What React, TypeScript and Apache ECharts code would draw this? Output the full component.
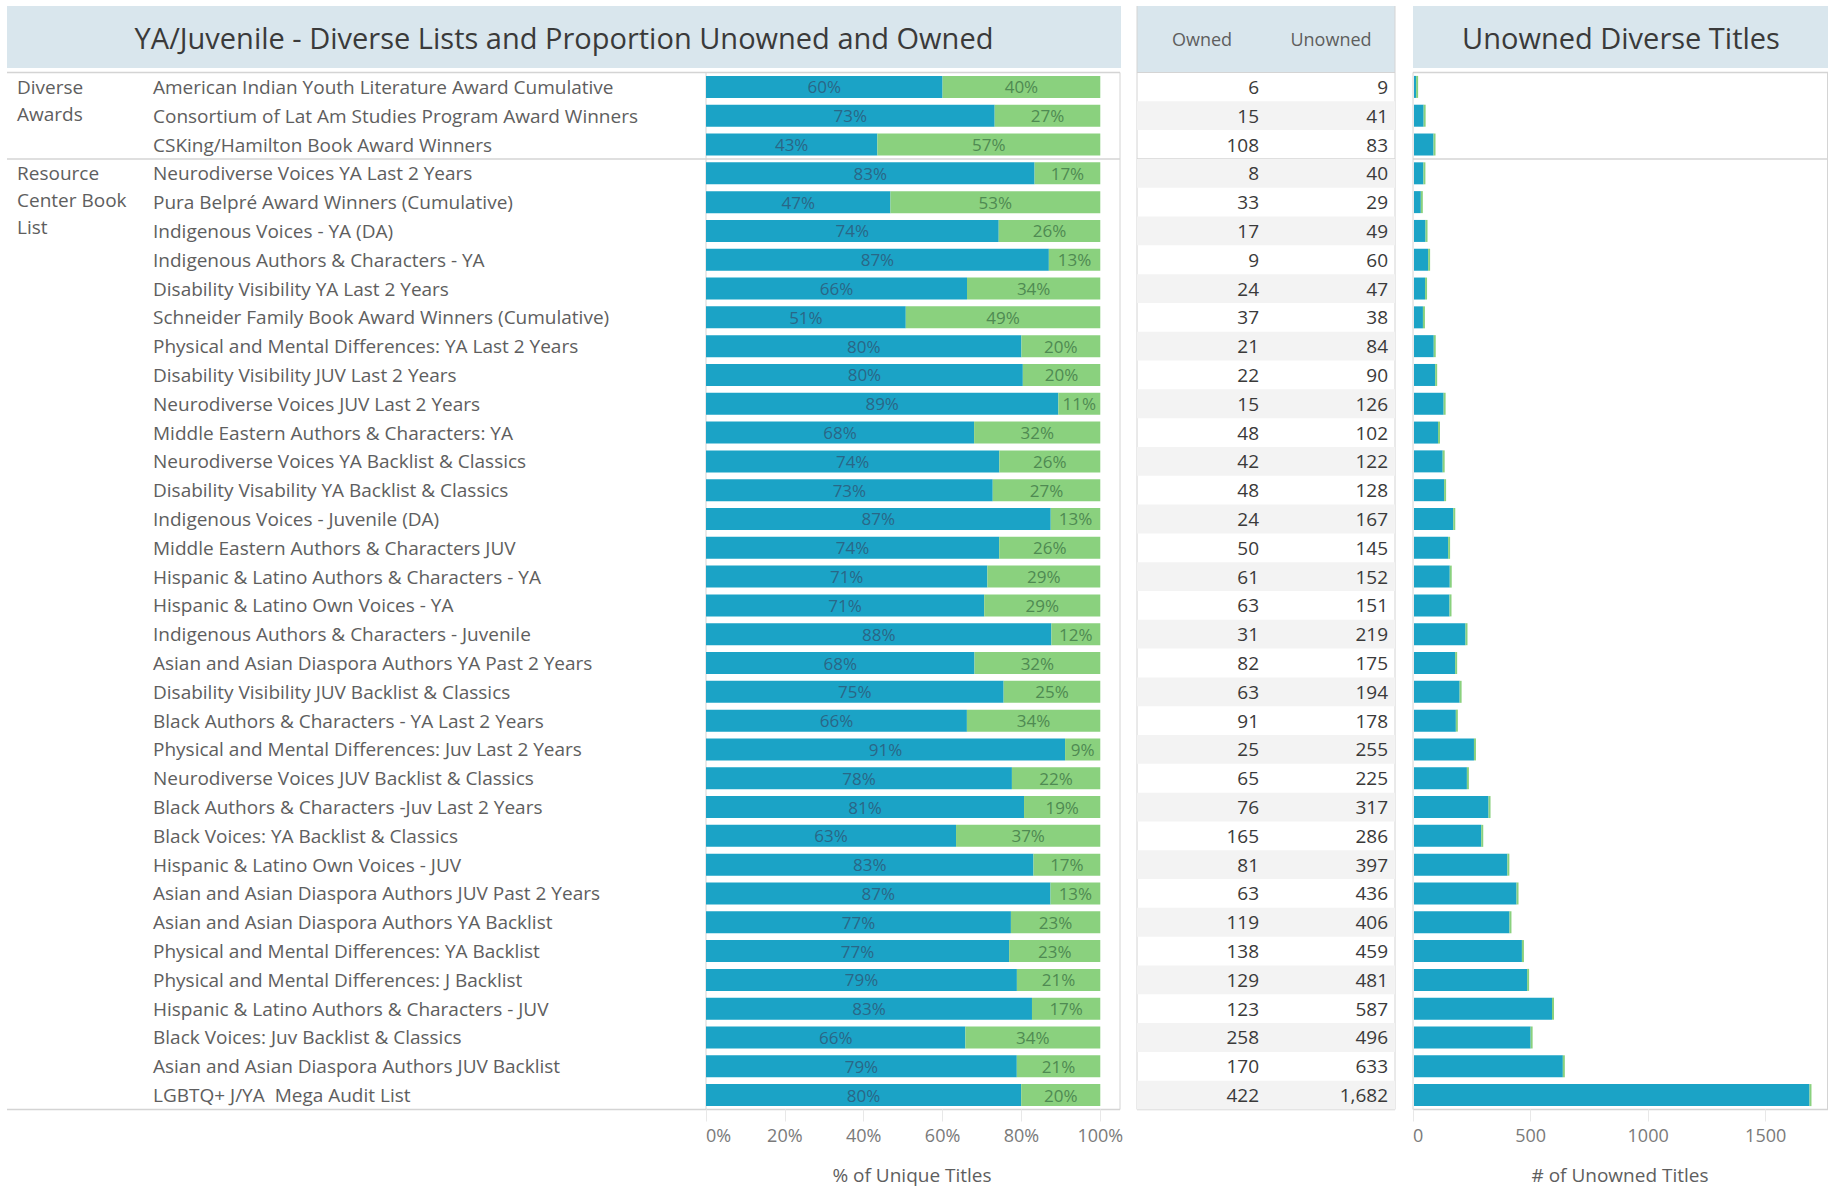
import React, { useEffect, useRef } from "react";
import * as echarts from "echarts";

const categories = [
  "American Indian Youth Literature Award Cumulative",
  "Consortium of Lat Am Studies Program Award Winners",
  "CSKing/Hamilton Book Award Winners",
  "Neurodiverse Voices YA Last 2 Years",
  "Pura Belpré Award Winners (Cumulative)",
  "Indigenous Voices - YA (DA)",
  "Indigenous Authors & Characters - YA",
  "Disability Visibility YA Last 2 Years",
  "Schneider Family Book Award Winners (Cumulative)",
  "Physical and Mental Differences: YA Last 2 Years",
  "Disability Visibility JUV Last 2 Years",
  "Neurodiverse Voices JUV Last 2 Years",
  "Middle Eastern Authors & Characters: YA",
  "Neurodiverse Voices YA Backlist & Classics",
  "Disability Visability YA Backlist & Classics",
  "Indigenous Voices - Juvenile (DA)",
  "Middle Eastern Authors & Characters JUV",
  "Hispanic & Latino Authors & Characters - YA",
  "Hispanic & Latino Own Voices - YA",
  "Indigenous Authors & Characters - Juvenile",
  "Asian and Asian Diaspora Authors YA Past 2 Years",
  "Disability Visibility JUV Backlist & Classics",
  "Black Authors & Characters - YA Last 2 Years",
  "Physical and Mental Differences: Juv Last 2 Years",
  "Neurodiverse Voices JUV Backlist & Classics",
  "Black Authors & Characters -Juv Last 2 Years",
  "Black Voices: YA Backlist & Classics",
  "Hispanic & Latino Own Voices - JUV",
  "Asian and Asian Diaspora Authors JUV Past 2 Years",
  "Asian and Asian Diaspora Authors YA Backlist",
  "Physical and Mental Differences: YA Backlist",
  "Physical and Mental Differences: J Backlist",
  "Hispanic & Latino Authors & Characters - JUV",
  "Black Voices: Juv Backlist & Classics",
  "Asian and Asian Diaspora Authors JUV Backlist",
  "LGBTQ+ J/YA  Mega Audit List",
];

const owned = [
  6, 15, 108, 8, 33, 17, 9, 24, 37, 21, 22, 15, 48, 42, 48, 24, 50, 61, 63, 31,
  82, 63, 91, 25, 65, 76, 165, 81, 63, 119, 138, 129, 123, 258, 170, 422,
];

const unowned = [
  9, 41, 83, 40, 29, 49, 60, 47, 38, 84, 90, 126, 102, 122, 128, 167, 145, 152,
  151, 219, 175, 194, 178, 255, 225, 317, 286, 397, 436, 406, 459, 481, 587,
  496, 633, 1682,
];

const groups = [
  { name: "Diverse\nAwards", start: 0, count: 3 },
  { name: "Resource\nCenter Book\nList", start: 3, count: 33 },
];

const pctTicks = [0, 20, 40, 60, 80, 100];
const countTicks = [0, 500, 1000, 1500];

const FONT = "'Open Sans', 'Noto Sans', sans-serif";
const BLUE = "#1ba3c6";
const GREEN = "#8ad17e";
const BAND = "#d9e6ed";
const LINE = "#d4d4d4";
const TXT = "#5e5e5e";

const W = 1828;
const H = 1187;
const TOP = 72.5;
const BOTTOM = 1109.5;
const ROWH = (BOTTOM - TOP) / categories.length;

const unownedPct = unowned.map((u, i) => (u / (u + owned[i])) * 100);
const ownedPct = owned.map((o, i) => (o / (o + unowned[i])) * 100);

export default function App() {
  const ref = useRef<HTMLDivElement>(null);
  useEffect(() => {
    if (!ref.current) return;
    const chart = echarts.init(ref.current, null, { renderer: "svg" });

    const graphics: any[] = [];
    graphics.push(
      { type: "rect", shape: { x: 7, y: 6, width: 1114, height: 62 }, style: { fill: BAND } },
      { type: "rect", shape: { x: 1137, y: 6, width: 258, height: 66 }, style: { fill: BAND } },
      { type: "rect", shape: { x: 1413, y: 6, width: 415, height: 62 }, style: { fill: BAND } },
      {
        type: "text", x: 564, y: 37,
        style: { text: "YA/Juvenile - Diverse Lists and Proportion Unowned and Owned", font: `29px ${FONT}`, fill: "#3a3a3a", align: "center", verticalAlign: "middle" },
      },
      {
        type: "text", x: 1621, y: 37,
        style: { text: "Unowned Diverse Titles", font: `29px ${FONT}`, fill: "#3a3a3a", align: "center", verticalAlign: "middle" },
      },
      {
        type: "text", x: 1202, y: 39,
        style: { text: "Owned", font: `18px ${FONT}`, fill: TXT, align: "center", verticalAlign: "middle" },
      },
      {
        type: "text", x: 1331, y: 39,
        style: { text: "Unowned", font: `18px ${FONT}`, fill: TXT, align: "center", verticalAlign: "middle" },
      }
    );
    groups.forEach((g) => {
      const lines = g.name.split("\n");
      lines.forEach((ln, k) => {
        graphics.push({
          type: "text", x: 17, y: TOP + ROWH * (g.start + 0.5) + k * 27,
          style: { text: ln, font: `19px ${FONT}`, fill: TXT, align: "left", verticalAlign: "middle" },
        });
      });
    });
    const sepYs = [TOP, TOP + ROWH * 3, BOTTOM];
    sepYs.forEach((y) => {
      graphics.push({ type: "line", shape: { x1: 7, y1: y, x2: 1120, y2: y }, style: { stroke: LINE, lineWidth: 1.5 } });
      graphics.push({ type: "line", shape: { x1: 1413, y1: y, x2: 1828, y2: y }, style: { stroke: LINE, lineWidth: 1.5 } });
    });
    graphics.push(
      { type: "line", shape: { x1: 1137, y1: TOP + ROWH * 3, x2: 1395, y2: TOP + ROWH * 3 }, style: { stroke: LINE, lineWidth: 1.5 } },
      { type: "line", shape: { x1: 1137, y1: BOTTOM, x2: 1395, y2: BOTTOM }, style: { stroke: LINE, lineWidth: 1.5 } },
      { type: "line", shape: { x1: 1137, y1: TOP, x2: 1395, y2: TOP }, style: { stroke: LINE, lineWidth: 1 } },
      { type: "line", shape: { x1: 1137, y1: 6, x2: 1137, y2: BOTTOM }, style: { stroke: LINE, lineWidth: 1 } },
      { type: "line", shape: { x1: 1395, y1: 6, x2: 1395, y2: BOTTOM }, style: { stroke: LINE, lineWidth: 1 } },
      { type: "line", shape: { x1: 706, y1: TOP, x2: 706, y2: BOTTOM }, style: { stroke: LINE, lineWidth: 1 } },
      { type: "line", shape: { x1: 1120, y1: TOP, x2: 1120, y2: BOTTOM }, style: { stroke: LINE, lineWidth: 1 } },
      { type: "line", shape: { x1: 1413, y1: TOP, x2: 1413, y2: BOTTOM }, style: { stroke: LINE, lineWidth: 1 } },
      { type: "line", shape: { x1: 1827.5, y1: TOP, x2: 1827.5, y2: BOTTOM }, style: { stroke: LINE, lineWidth: 1 } },
      {
        type: "text", x: 912, y: 1175,
        style: { text: "% of Unique Titles", font: `19px ${FONT}`, fill: TXT, align: "center", verticalAlign: "middle" },
      },
      {
        type: "text", x: 1620, y: 1175,
        style: { text: "# of Unowned Titles", font: `19px ${FONT}`, fill: TXT, align: "center", verticalAlign: "middle" },
      }
    );

    const gridH = BOTTOM - TOP;
    const option: any = {
      animation: false,
      backgroundColor: "#fff",
      textStyle: { fontFamily: FONT },
      grid: [
        { left: 706, top: TOP, width: 414, height: gridH, containLabel: false },
        { left: 1137, top: TOP, width: 258, height: gridH, containLabel: false },
        { left: 1413, top: TOP, width: 415, height: gridH, containLabel: false },
      ],
      xAxis: [
        {
          gridIndex: 0, type: "value", min: 0, max: 105, interval: 20,
          axisLine: { show: false },
          axisTick: { show: true, length: 12, lineStyle: { color: "#e8e8e8" } },
          splitLine: { show: false },
          axisLabel: {
            showMaxLabel: false, alignMinLabel: "left", margin: 16,
            fontSize: 18, color: "#7a7a7a", fontFamily: FONT,
            formatter: (v: number) => (pctTicks.includes(v) ? `${v}%` : ""),
          },
        },
        { gridIndex: 1, type: "value", min: 0, max: 1, show: false },
        {
          gridIndex: 2, type: "value", min: 0, max: 1765, interval: 500,
          axisLine: { show: false },
          axisTick: { show: true, length: 12, lineStyle: { color: "#e8e8e8" } },
          splitLine: { show: false },
          axisLabel: {
            showMaxLabel: false, alignMinLabel: "left", margin: 16,
            fontSize: 18, color: "#7a7a7a", fontFamily: FONT,
            formatter: (v: number) => (countTicks.includes(v) ? `${v}` : ""),
          },
        },
      ],
      yAxis: [
        {
          gridIndex: 0, type: "category", data: categories, inverse: true,
          axisLine: { show: false }, axisTick: { show: false },
          axisLabel: { align: "left", margin: 553, fontSize: 19, color: TXT, fontFamily: FONT },
        },
        { gridIndex: 1, type: "category", data: categories, inverse: true, show: false },
        { gridIndex: 2, type: "category", data: categories, inverse: true, show: false },
      ],
      series: [
        {
          type: "bar", name: "Unowned %", xAxisIndex: 0, yAxisIndex: 0, stack: "pct",
          barWidth: 22, data: unownedPct, itemStyle: { color: BLUE },
          label: {
            show: true, position: "inside", fontSize: 17, color: "#2a6787", fontFamily: FONT,
            formatter: (p: any) => `${Math.round(p.value)}%`,
          },
        },
        {
          type: "bar", name: "Owned %", xAxisIndex: 0, yAxisIndex: 0, stack: "pct",
          barWidth: 22, data: ownedPct, itemStyle: { color: GREEN },
          label: {
            show: true, position: "inside", fontSize: 17, color: "#4f8a52", fontFamily: FONT,
            formatter: (p: any) => `${Math.round(p.value)}%`,
          },
        },
        {
          type: "custom", name: "table", xAxisIndex: 1, yAxisIndex: 1,
          data: categories.map((_, i) => [i, owned[i], unowned[i]]),
          encode: { y: 0 },
          renderItem: (params: any, api: any) => {
            const idx = api.value(0);
            const left = api.coord([0, idx]);
            const right = api.coord([1, idx]);
            const h = api.size([0, 1])[1];
            const children: any[] = [];
            if (idx % 2 === 1) {
              children.push({
                type: "rect",
                shape: { x: left[0], y: left[1] - h / 2, width: right[0] - left[0], height: h },
                style: { fill: "#f3f3f3" },
              });
            }
            children.push({
              type: "text", x: 1259, y: left[1],
              style: { text: Number(api.value(1)).toLocaleString("en-US"), font: `19px ${FONT}`, fill: "#3a3a3a", align: "right", verticalAlign: "middle" },
            });
            children.push({
              type: "text", x: 1388, y: left[1],
              style: { text: Number(api.value(2)).toLocaleString("en-US"), font: `19px ${FONT}`, fill: "#3a3a3a", align: "right", verticalAlign: "middle" },
            });
            return { type: "group", children };
          },
        },
        {
          type: "custom", name: "Unowned", xAxisIndex: 2, yAxisIndex: 2,
          data: categories.map((_, i) => [unowned[i], i]),
          encode: { x: 0, y: 1 },
          renderItem: (params: any, api: any) => {
            const start = api.coord([0, api.value(1)]);
            const end = api.coord([api.value(0), api.value(1)]);
            const bh = 22;
            return {
              type: "group",
              children: [
                { type: "rect", shape: { x: start[0] + 1, y: start[1] - bh / 2, width: end[0] - start[0], height: bh }, style: { fill: BLUE } },
                { type: "rect", shape: { x: end[0] + 1, y: start[1] - bh / 2, width: 2, height: bh }, style: { fill: GREEN } },
              ],
            };
          },
        },
      ],
      graphic: graphics,
    };
    chart.setOption(option);
    return () => chart.dispose();
  }, []);
  return <div ref={ref} style={{ position: "absolute", left: 0, top: 0, width: W, height: H }} />;
}
